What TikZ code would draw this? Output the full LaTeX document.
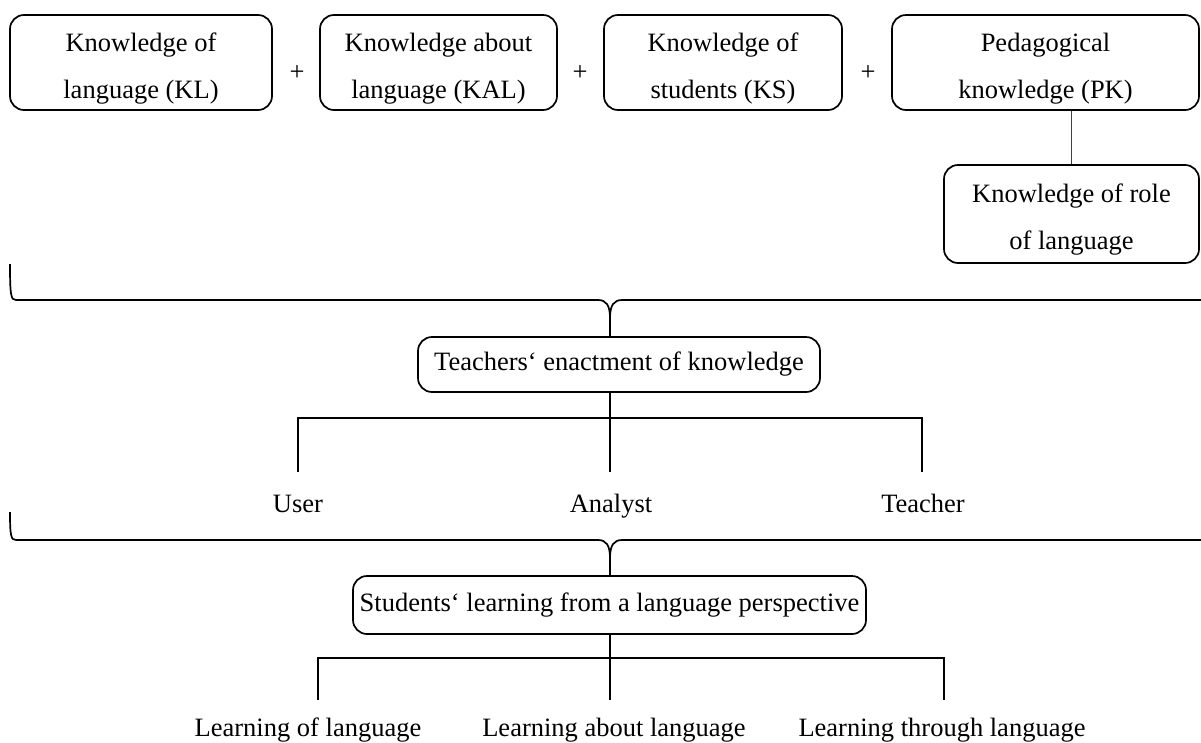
\documentclass[tikz,border=0pt]{standalone}
\usepackage{fontspec}
\setmainfont{Liberation Serif}
\begin{document}
\begin{tikzpicture}[x=1pt,y=-1pt,
  box/.style={draw, line width=1.7pt, rounded corners=14pt, align=center,
    font=\fontsize{26.5}{47}\selectfont, inner sep=0pt},
  twoline/.style={box, text height=77pt, text depth=6pt},
  lbl/.style={font=\fontsize{26.5}{32}\selectfont, inner sep=0pt, anchor=base},
  ln/.style={line width=1.2pt},
  brace/.style={line width=1.7pt}]
\useasboundingbox (0,0) rectangle (1201,742);

% knowledge components
\node[twoline, minimum width=262pt, minimum height=95pt] (kl)  at (141,62.5)   {Knowledge of\\language (KL)};
\node[twoline, minimum width=237pt, minimum height=95pt] (kal) at (438.5,62.5) {Knowledge about\\language (KAL)};
\node[twoline, minimum width=238pt, minimum height=95pt] (ks)  at (723,62.5)   {Knowledge of\\students (KS)};
\node[twoline, minimum width=307pt, minimum height=95pt] (pk)  at (1045.5,62.5){Pedagogical\\knowledge (PK)};
\node[lbl] (p1) at (297,80) {+};
\node[lbl] (p2) at (580,80) {+};
\node[lbl] (p3) at (868,80) {+};

\node[twoline, minimum width=255pt, minimum height=98pt] (role) at (1071.5,214) {Knowledge of role\\of language};
\draw[line width=1pt, black!75] (role.north) -- (role.north |- pk.south);

% enactment
\node[box, minimum width=402pt, minimum height=55pt] (enact) at (619,364.5) {Teachers‘ enactment of knowledge};
\coordinate (b1) at (10,264);
\draw[brace] (b1) .. controls (10,296) and (11,300) .. (16,300) -- (598,300)
  .. controls (606,300) and (610,305) .. (610,318) -- (enact.north -| 610,0);
\draw[brace] (1201,300) -- (622,300) .. controls (614,300) and (610,305) .. (610,318);

\node[lbl] (user)    at (298,512) {User};
\node[lbl] (analyst) at (611,512) {Analyst};
\node[lbl] (teacher) at (923,512) {Teacher};
\coordinate (j1) at (610,418);
\draw[ln] (enact.south -| j1) -- (j1);
\draw[ln] (298,472) -- (298,418) -- (922,418) -- (922,472);
\draw[ln] (j1) -- (610,472);

% students' learning
\node[box, minimum width=513pt, minimum height=58pt] (learn) at (609.5,605) {Students‘ learning from a language perspective};
\coordinate (b2) at (10,512);
\draw[brace] (b2) .. controls (10,536) and (11,540) .. (16,540) -- (598,540)
  .. controls (606,540) and (610,545) .. (610,558) -- (learn.north -| 610,0);
\draw[brace] (1201,540) -- (622,540) .. controls (614,540) and (610,545) .. (610,558);

\node[lbl] (lof)  at (308,736) {Learning of language};
\node[lbl] (labt) at (614,736) {Learning about language};
\node[lbl] (lthr) at (942,736) {Learning through language};
\coordinate (j2) at (610,658);
\draw[ln] (learn.south -| j2) -- (j2);
\draw[ln] (318,700) -- (318,658) -- (944,658) -- (944,700);
\draw[ln] (j2) -- (610,700);
\end{tikzpicture}
\end{document}
